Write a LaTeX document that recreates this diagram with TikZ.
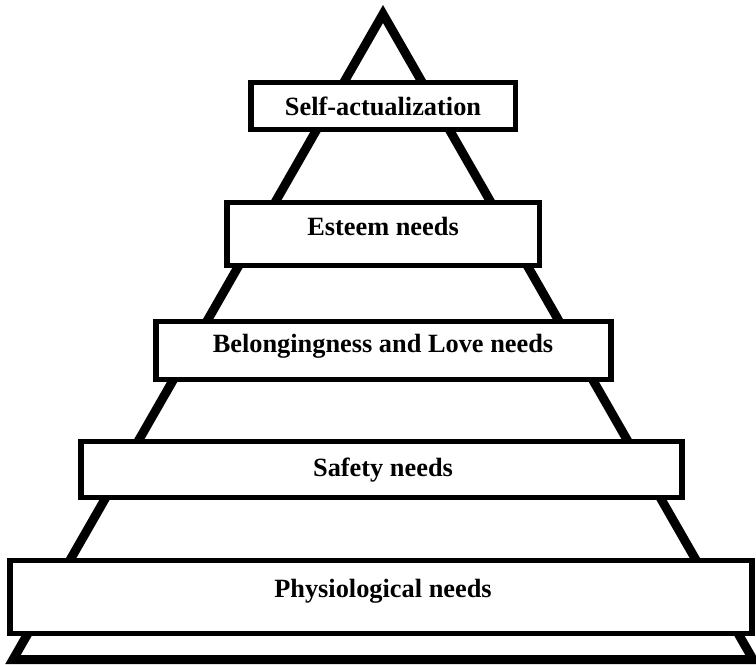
\documentclass[tikz,border=0pt]{standalone}
\usepackage{fontspec}
\setmainfont{Liberation Serif}
\tikzset{tier/.style= {draw, fill=white, line width=3.1pt, rectangle, inner sep=0pt},
         tiertext/.style= {inner sep=0pt, font=\fontsize{15}{18}\selectfont\bfseries}}

\begin{document}
\begin{tikzpicture}[x=0.02cm, y=-0.02cm]
        \useasboundingbox (0,0) rectangle (756,664);

        \draw[line width=5.1pt, line join=miter](13,659.5)--(383,14)--(753,659.5)--cycle;

        \node[tier, minimum width=5.29cm, minimum height=0.93cm](self)at(383,106){};
        \node[tier, minimum width=6.25cm, minimum height=1.27cm](esteem)at(383,234){};
        \node[tier, minimum width=9.11cm, minimum height=1.15cm](love)at(383.5,350.5){};
        \node[tier, minimum width=12.03cm, minimum height=1.11cm](safety)at(381.5,469.5){};
        \node[tier, minimum width=14.85cm, minimum height=1.45cm](phys)at(381,597){};

        \node[tiertext](self-t)at(383,106.5){Self-actualization};
        \node[tiertext](esteem-t)at(383,226.5){Esteem needs};
        \node[tiertext](love-t)at(383,346){Belongingness and Love needs};
        \node[tiertext](safety-t)at(383,470){Safety needs};
        \node[tiertext](phys-t)at(383,591){Physiological needs};
    \end{tikzpicture}
\end{document}
